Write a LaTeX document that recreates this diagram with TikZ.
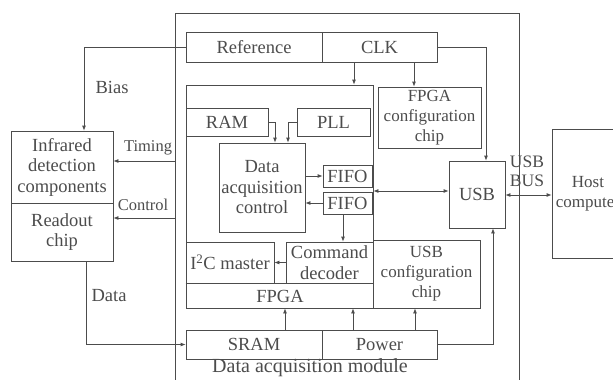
\documentclass[tikz,border=0pt]{standalone}
\usepackage{fontspec}
\setmainfont{Liberation Serif}
\usetikzlibrary{arrows.meta, positioning}
\definecolor{ink}{gray}{0.3}

\begin{document}
\begin{tikzpicture}[x=1pt, y=-1pt, >={Latex[length=5pt,width=4pt]}, line width=0.8pt, color=ink]
    \tikzset{
        mbox/.style={draw, inner sep=0pt, align=center, font=\fontsize{18.5}{20.5}\selectfont},
        sbox/.style={mbox, font=\fontsize{17}{20}\selectfont},
        clabel/.style={inner sep=0pt, align=center, font=\fontsize{18.5}{19}\selectfont},
        slabel/.style={clabel, font=\fontsize{16.5}{18}\selectfont},
    }
    \clip (0,0) rectangle (613,380);

    % module frame
    \draw (175,381) -- (175,13) -- (519,13) -- (519,381);
    \node[clabel, font=\fontsize{20}{20}\selectfont] (modlbl) at (310,368) {Data acquisition module};

    % top row
    \node[mbox, minimum width=136pt, minimum height=30pt] (ref) at (254,47) {Reference};
    \node[mbox, minimum width=115pt, minimum height=30pt] (clk) at (379.5,47) {CLK};
    \node[sbox, minimum width=103pt, minimum height=61pt] (fpgacfg) at (429.5,117.5) {FPGA\\configuration\\chip};

    % FPGA
    \node[draw, inner sep=0pt, minimum width=187pt, minimum height=223pt] (fpga) at (279.5,196.5) {};
    \node[clabel] (fpgalbl) at (280,296) {FPGA};
    \coordinate (fsep) at (0,283);
    \draw (fpga.west |- fsep) -- (fpga.east |- fsep);
    \node[mbox, minimum width=82pt, minimum height=28pt] (ram) at (227,122) {RAM};
    \node[mbox, minimum width=73pt, minimum height=28pt] (pll) at (333.5,122) {PLL};
    \node[mbox, minimum width=86pt, minimum height=89pt] (dac) at (262,187.5) {Data\\acquisition\\control};
    \node[mbox, minimum width=49pt, minimum height=22pt] (fifoa) at (347.5,176) {FIFO};
    \node[mbox, minimum width=49pt, minimum height=22pt] (fifob) at (347.5,203) {FIFO};
    \node[mbox, minimum width=88pt, minimum height=41pt] (i2c) at (230,262.5) {I\textsuperscript{2}C master};
    \node[mbox, minimum width=87pt, minimum height=41pt] (cmd) at (329.5,262.5) {Command\\decoder};

    % right side
    \node[sbox, minimum width=107pt, minimum height=68pt] (usbcfg) at (426.5,274) {USB\\configuration\\chip};
    \node[mbox, minimum width=56pt, minimum height=67pt] (usb) at (477,194.5) {USB};
    \node[sbox, minimum width=72pt, minimum height=129pt] (host) at (588,193.5) {Host\\computer};
    \node[clabel, font=\fontsize{17.5}{19}\selectfont] (usbbus) at (527,171) {USB\\BUS};

    % bottom row
    \node[mbox, minimum width=136pt, minimum height=29pt] (sram) at (254,344.5) {SRAM};
    \node[mbox, minimum width=115pt, minimum height=29pt] (power) at (379.5,344.5) {Power};

    % detector side
    \node[mbox, minimum width=102pt, minimum height=72pt] (ird) at (62,167) {Infrared\\detection\\components};
    \node[mbox, minimum width=102pt, minimum height=58pt] (rdo) at (62,232) {Readout\\chip};
    \node[clabel] (bias) at (112,87) {Bias};
    \node[slabel] (timing) at (148,148) {Timing};
    \node[slabel] (control) at (143,205) {Control};
    \node[clabel] (data) at (109,296) {Data};

    % connectors
    \draw[->] (ref.west) -| ([xshift=22pt]ird.north);
    \coordinate (tm) at (175,161);
    \draw[->] (tm) -- (tm -| ird.east);
    \coordinate (ct) at (175,218);
    \draw[->] (ct) -- (ct -| rdo.east);
    \draw[->] ([xshift=24pt]rdo.south) |- (sram.west);

    \coordinate (ka) at (354,0);
    \coordinate (kb) at (414,0);
    \draw[->] (clk.south -| ka) -- (fpga.north -| ka);
    \draw[->] (clk.south -| kb) -- (fpgacfg.north -| kb);
    \draw[->] (clk.east) -| ([xshift=9pt]usb.north);

    \draw[->] (ram.east) -| ([xshift=13pt]dac.north);
    \draw[->] (pll.west) -| ([xshift=26pt]dac.north);
    \draw[->] (fifoa.west -| dac.east) -- (fifoa.west);
    \draw[->] (fifob.west) -- (fifob.west -| dac.east);
    \coordinate (fc) at (343,0);
    \draw[->] (fifob.south -| fc) -- (cmd.north -| fc);
    \draw[->] (cmd.west) -- (i2c.east);

    \coordinate (bus) at (0,191);
    \draw[<->] (fpga.east |- bus) -- (usb.west |- bus);
    \coordinate (hbus) at (0,195);
    \draw[<->] (usb.east |- hbus) -- (host.west |- hbus);

    \coordinate (pa) at (285,0);
    \coordinate (pb) at (353,0);
    \coordinate (pc) at (415,0);
    \draw[->] (sram.north -| pa) -- (fpga.south -| pa);
    \draw[->] (power.north -| pb) -- (fpga.south -| pb);
    \draw[->] (power.north -| pc) -- (usbcfg.south -| pc);
    \draw[->] (power.east) -| ([xshift=16pt]usb.south);
\end{tikzpicture}
\end{document}
